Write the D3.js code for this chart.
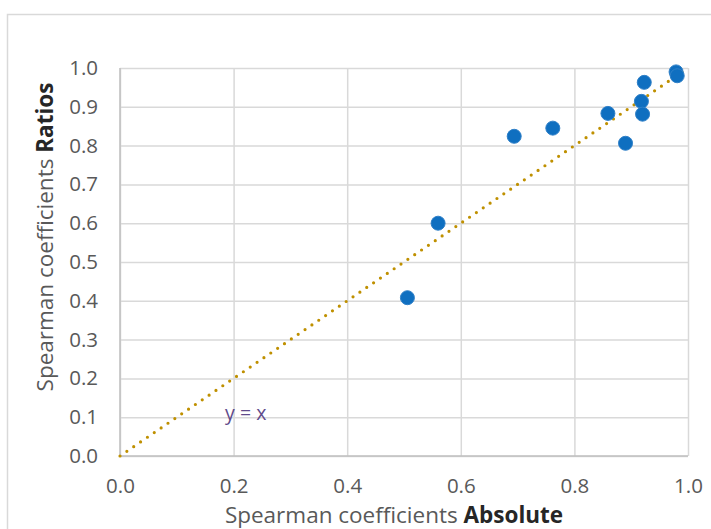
<!DOCTYPE html>
<html>
<head>
<meta charset="utf-8">
<script src="https://cdn.jsdelivr.net/npm/d3@7"></script>
<style>
  html, body { margin: 0; padding: 0; background: #ffffff; }
  svg { display: block; }
  text { font-family: "Open Sans", "Noto Sans", sans-serif; }
</style>
</head>
<body>
<svg id="chart" width="711" height="529"></svg>
<script>
// ---- data ----
const absoluteValues = [0.506, 0.560, 0.694, 0.762, 0.859, 0.890, 0.918, 0.920, 0.923, 0.979, 0.981];
const ratioValues    = [0.408, 0.600, 0.824, 0.845, 0.883, 0.806, 0.914, 0.881, 0.963, 0.990, 0.980];
const xTicks = [0.0, 0.2, 0.4, 0.6, 0.8, 1.0];
const yTicks = [0.0, 0.1, 0.2, 0.3, 0.4, 0.5, 0.6, 0.7, 0.8, 0.9, 1.0];
const identityLine = [[0, 0], [1, 1]];
const identityLabel = "y = x";
const xTitle = ["Spearman coefficients ", "Absolute"];
const yTitle = ["Spearman coefficients ", "Ratios"];

// ---- layout ----
const svg = d3.select("#chart");
const plot = { left: 120, right: 688, top: 68, bottom: 456 };

const x = d3.scaleLinear().domain([0, 1]).range([plot.left, plot.right]);
const y = d3.scaleLinear().domain([0, 1]).range([plot.bottom, plot.top]);

// outer chart border
svg.append("rect")
  .attr("x", 7.5).attr("y", 14.5)
  .attr("width", 720).attr("height", 540)
  .attr("fill", "#ffffff")
  .attr("stroke", "#d9d9d9").attr("stroke-width", 1.5);

// gridlines via axes
const gridColor = "#d9d9d9";
const xGrid = svg.append("g")
  .attr("transform", `translate(0,${plot.bottom})`)
  .call(d3.axisBottom(x).tickValues(xTicks).tickSize(-(plot.bottom - plot.top)).tickFormat(""));
xGrid.select(".domain").remove();
xGrid.selectAll("line").attr("stroke", gridColor).attr("stroke-width", 1.5);

const yGrid = svg.append("g")
  .attr("transform", `translate(${plot.left},0)`)
  .call(d3.axisLeft(y).tickValues(yTicks).tickSize(-(plot.right - plot.left)).tickFormat(""));
yGrid.select(".domain").remove();
yGrid.selectAll("line").attr("stroke", gridColor).attr("stroke-width", 1.5);

// axis lines (left & bottom)
svg.append("line")
  .attr("x1", plot.left).attr("x2", plot.left)
  .attr("y1", plot.top).attr("y2", plot.bottom)
  .attr("stroke", "#bfbfbf").attr("stroke-width", 1.5);
svg.append("line")
  .attr("x1", plot.left).attr("x2", plot.right)
  .attr("y1", plot.bottom).attr("y2", plot.bottom)
  .attr("stroke", "#bfbfbf").attr("stroke-width", 1.5);

// tick labels
const fmt = d3.format(".1f");
const xAxis = svg.append("g")
  .attr("transform", `translate(0,${plot.bottom})`)
  .call(d3.axisBottom(x).tickValues(xTicks).tickSize(0).tickPadding(22).tickFormat(fmt));
xAxis.select(".domain").remove();
xAxis.selectAll("text")
  .style("font-family", "'Open Sans', sans-serif")
  .attr("font-size", 20.5).attr("fill", "#595959");

const yAxis = svg.append("g")
  .attr("transform", `translate(${plot.left},0)`)
  .call(d3.axisLeft(y).tickValues(yTicks).tickSize(0).tickPadding(22).tickFormat(fmt));
yAxis.select(".domain").remove();
yAxis.selectAll("text")
  .style("font-family", "'Open Sans', sans-serif")
  .attr("font-size", 20.5).attr("fill", "#595959");

// identity line (dotted)
svg.append("path")
  .datum(identityLine)
  .attr("d", d3.line().x(d => x(d[0])).y(d => y(d[1])))
  .attr("fill", "none")
  .attr("stroke", "#bf9000")
  .attr("stroke-width", 3.2)
  .attr("stroke-linecap", "round")
  .attr("stroke-dasharray", "0 8.3");

// label y = x
svg.append("text")
  .attr("x", x(0.185)).attr("y", y(0.093))
  .attr("font-size", 19.5).attr("fill", "#5f4b8b")
  .text(identityLabel);

// points
const pts = absoluteValues.map((v, i) => ({ a: v, r: ratioValues[i] }));
svg.append("g").selectAll("circle")
  .data(pts).join("circle")
  .attr("cx", d => x(d.a)).attr("cy", d => y(d.r))
  .attr("r", 7)
  .attr("fill", "#0f6fc0")
  .attr("stroke", "#2f80c8").attr("stroke-width", 1);

// axis titles
const xt = svg.append("text")
  .attr("x", 394).attr("y", 523)
  .attr("text-anchor", "middle")
  .attr("font-size", 22.5).attr("fill", "#595959");
xt.append("tspan").text(xTitle[0]);
xt.append("tspan").attr("font-weight", "bold").attr("fill", "#262626").text(xTitle[1]);

const yt = svg.append("text")
  .attr("transform", `translate(53,237) rotate(-90)`)
  .attr("text-anchor", "middle")
  .attr("font-size", 22.5).attr("fill", "#595959");
yt.append("tspan").text(yTitle[0]);
yt.append("tspan").attr("font-weight", "bold").attr("fill", "#262626").text(yTitle[1]);
</script>
</body>
</html>
